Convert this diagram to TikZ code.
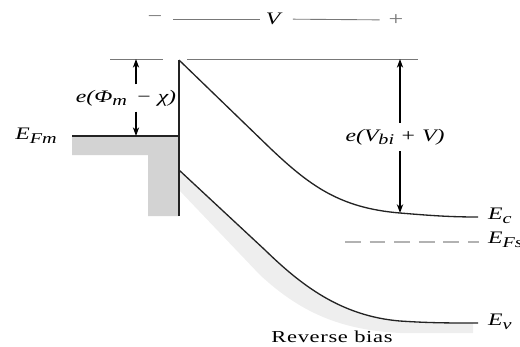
\documentclass[tikz,border=0pt]{standalone}
\usepackage{fontspec}
\setmainfont[FakeStretch=1.35]{Liberation Serif}
\usepackage{xcolor}
\definecolor{metalgray}{RGB}{211,211,211}
\definecolor{bandgray}{RGB}{238,238,238}
\definecolor{refgray}{RGB}{120,120,120}
\definecolor{fermigray}{RGB}{178,178,178}
\definecolor{bandline}{RGB}{35,35,35}
\usetikzlibrary{arrows.meta,positioning,calc}

\newcommand{\lowtxt}[1]{\raisebox{-0.45ex}{\fontsize{8.5}{9}\selectfont #1}}

\begin{document}
\begin{tikzpicture}[x=0.02cm, y=-0.02cm,
    lbl/.style={font=\fontsize{10}{11}\selectfont\itshape, inner sep=1pt},
    sign/.style={font=\fontsize{11}{12}\selectfont, text=refgray, inner sep=1pt},
    band/.style={line width=0.75pt, draw=bandline},
    refline/.style={line width=0.5pt, draw=refgray},
    fermi/.style={line width=0.8pt, draw=fermigray, dash pattern=on 9pt off 5pt},
    arr/.style={-{Stealth[length=5pt,width=3.6pt]}, line width=0.6pt},
  ]
    \useasboundingbox (0,0) rectangle (520,346);

    % metal and semiconductor shading
    \fill[metalgray] (72,137) -| (179,216) -| (148,155) -| (72,137);
    \fill[bandgray] (179,170) -- (265,250) .. controls (300,284) and (340,316) .. (400,321)
        .. controls (430,323) and (450,323) .. (473,323) -- (473,333) -- (400,333)
        .. controls (340,330) and (300,312) .. (260,275) -- (179,190) -- cycle;

    % applied bias
    \node[sign] (minus) at (155,19) {−};
    \node[lbl]  (vbias) at (273,19) {V};
    \node[sign] (plus)  at (396,20) {+};
    \draw[refline, shorten <=5pt, shorten >=2.3pt] (minus) -- (vbias);
    \draw[refline, shorten <=6pt, shorten >=4pt] (vbias) -- (plus);

    % reference level at barrier top
    \coordinate (refL) at (110,59);
    \coordinate (refR) at (418,59);
    \draw[refline] (refL) -- (163,59);
    \draw[refline] (187,59) -- (refR);

    % metal
    \coordinate (barTop) at (179,60);
    \coordinate (barBot) at (179,216);
    \coordinate (efmL) at (72,136);
    \node[lbl] (efm) at (36,136) {E\lowtxt{Fm}};
    \draw[line width=0.8pt, bandline] (efmL) -- (efmL -| barTop);
    \draw[line width=1pt, bandline] (barTop) -- (barBot);

    % band edges
    \draw[band] (barTop) -- (270,148) .. controls (310,186) and (340,208) .. (400,213)
        .. controls (430,215.5) and (450,217) .. (478,217);
    \draw[band] (179,170) -- (265,250) .. controls (300,284) and (340,316) .. (400,321)
        .. controls (430,323) and (450,323) .. (478,323);

    \node[lbl, anchor=west] (ec)  at (486,216) {E\lowtxt{c}};
    \node[lbl, anchor=west] (efs) at (486,240) {E\lowtxt{Fs}};
    \node[lbl, anchor=west] (ev)  at (486,322) {E\lowtxt{v}};
    \coordinate (efsL) at (345,242);
    \draw[fermi, shorten >=4pt] (efsL) -- (efsL -| efs.west);

    % barrier heights
    \coordinate (phiTop) at (136,59);
    \coordinate (phiBot) at (136,136);
    \node[lbl, inner sep=3pt] (phim) at (126,98) {e(Φ\lowtxt{m} \,− χ)};
    \draw[arr] (phim.north -| phiTop) -- (phiTop);
    \draw[arr] (phim.south -| phiBot) -- (phiBot);

    \coordinate (vbiTop) at (400,59);
    \coordinate (vbiBot) at (400,213);
    \node[lbl, inner sep=3.5pt] (vbi) at (395,137) {e(V\lowtxt{bi}\ + V)};
    \draw[arr] (vbi.north -| vbiTop) -- (vbiTop);
    \draw[arr, line width=1.3pt] (vbi.south -| vbiBot) -- (vbiBot);

    \node[font=\fontsize{9.5}{11}\selectfont\addfontfeature{LetterSpace=4}] (rev) at (332,337) {Reverse bias};
\end{tikzpicture}
\end{document}
